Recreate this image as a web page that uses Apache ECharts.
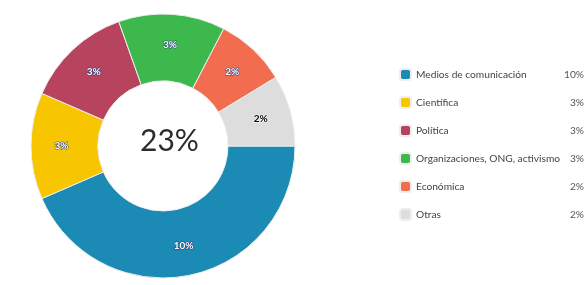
<!DOCTYPE html>
<html>
<head>
<meta charset="utf-8">
<script src="https://cdn.jsdelivr.net/npm/echarts@6/dist/echarts.min.js"></script>
<style>
  html, body { margin: 0; padding: 0; background: #fff; }
  #chart { width: 586px; height: 285px; }
</style>
</head>
<body>
<div id="chart"></div>
<script>
// data (percent of total)
const categories = ["Medios de comunicación", "Científica", "Política", "Organizaciones, ONG, activismo", "Económica", "Otras"];
const values = [10, 3, 3, 3, 2, 2];
const colors = ["#1b8bb5", "#f7c600", "#b8435f", "#3db84d", "#f26c4f", "#dddddd"];
const totalLabel = "23%";

const chart = echarts.init(document.getElementById("chart"));

const seriesData = categories.map((name, i) => ({
  name: name,
  value: values[i],
  itemStyle: { color: colors[i] },
  label: i === 5 ? { color: "#000", textBorderColor: "#fff" } : {}
}));

const option = {
  animation: false,
  textStyle: { fontFamily: "Lato" },
  graphic: [
    {
      type: "text",
      left: 140,
      top: 126,
      style: {
        text: totalLabel,
        font: "30px Lato",
        fill: "#2b2b2b"
      }
    }
  ],
  legend: {
    orient: "vertical",
    left: 399,
    top: 68,
    padding: 0,
    itemWidth: 11,
    itemHeight: 11,
    itemGap: 15,
    icon: "roundRect",
    selectedMode: false,
    data: categories,
    formatter: name => {
      const i = categories.indexOf(name);
      return "{a|" + name + "}{b|" + values[i] + "%}";
    },
    textStyle: {
      rich: {
        a: { width: 147, fontSize: 10.2, color: "#444", fontFamily: "Lato" },
        b: { width: 21, align: "right", fontSize: 10.2, color: "#555", fontFamily: "Lato" }
      }
    }
  },
  series: [
    {
      name: "Tipo",
      type: "pie",
      center: [163, 146],
      radius: [65, 132],
      startAngle: 0,
      clockwise: true,
      data: seriesData,
      label: {
        show: true,
        position: "inside",
        formatter: "{c}%",
        fontSize: 10,
        fontWeight: "bold",
        color: "#fff",
        textBorderColor: "#2a3f7a",
        textBorderWidth: 1
      },
      labelLine: { show: false },
      itemStyle: {
        borderColor: "#eee",
        borderWidth: 1
      }
    }
  ]
};

chart.setOption(option);
</script>
</body>
</html>
